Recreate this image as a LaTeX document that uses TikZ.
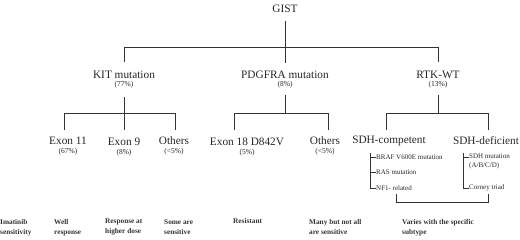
\documentclass[tikz,border=0pt]{standalone}
\usepackage{fontspec}
\setmainfont{Liberation Serif}
\begin{document}
\begin{tikzpicture}[x=1pt,y=-1pt,
  lvl/.style={font=\fontsize{11.3}{13}\selectfont, inner sep=0pt, text=black!85},
  pct/.style={font=\fontsize{7.5}{9}\selectfont, inner sep=0pt, text=black!85},
  sublab/.style={font=\fontsize{7}{9}\selectfont, inner sep=0pt, anchor=west, align=left, text=black!85},
  botlab/.style={font=\bfseries\fontsize{7.3}{10}\selectfont, inner sep=0pt, anchor=north west, align=left, text=black!80},
  ln/.style={draw=black!80, line width=0.8pt}]
\useasboundingbox (0,0) rectangle (520,239);

% top level
\node[lvl] (gist) at (285,9) {GIST};
\node[lvl] (kit) at (124,75) {KIT mutation};
\node[pct] (kitp) at (124,85) {(77\%)};
\node[lvl] (pdg) at (285,75) {PDGFRA mutation};
\node[pct] (pdgp) at (285,85) {(8\%)};
\node[lvl] (rtk) at (438,75) {RTK-WT};
\node[pct] (rtkp) at (438,85) {(13\%)};

\coordinate (g0) at (285,21);
\coordinate (g1) at (285,63);
\coordinate (gL) at (124,47);
\coordinate (gR) at (438,47);
\coordinate (gLb) at (124,62);
\coordinate (gRb) at (438,62);
\draw[ln] (g0) -- (g1);
\draw[ln] (gLb) -- (gL) -- (gR) -- (gRb);

% KIT subtree
\node[lvl] (ex11) at (68,141) {Exon 11};
\node[pct] (ex11p) at (68,151.5) {(67\%)};
\node[lvl] (ex9) at (124,141.5) {Exon 9};
\node[pct] (ex9p) at (124,152.5) {(8\%)};
\node[lvl] (koth) at (174,141) {Others};
\node[pct] (kothp) at (174,151.5) {(<5\%)};
\coordinate (k0) at (124,97);
\coordinate (k1) at (124,130);
\coordinate (kL) at (64,113);
\coordinate (kR) at (175,113);
\coordinate (kLb) at (64,130);
\coordinate (kRb) at (175,130);
\draw[ln] (k0) -- (k1);
\draw[ln] (kLb) -- (kL) -- (kR) -- (kRb);

% PDGFRA subtree
\node[lvl] (ex18) at (247,141.5) {Exon 18 D842V};
\node[pct] (ex18p) at (247,153) {(5\%)};
\node[lvl] (poth) at (325,141) {Others};
\node[pct] (pothp) at (325,151.5) {(<5\%)};
\coordinate (p0) at (285,95);
\coordinate (p1) at (285,113);
\coordinate (pL) at (234,113);
\coordinate (pR) at (328,113);
\coordinate (pLb) at (234,130);
\coordinate (pRb) at (328,130);
\draw[ln] (p0) -- (p1);
\draw[ln] (pLb) -- (pL) -- (pR) -- (pRb);

% RTK subtree
\node[lvl] (sdhc) at (389,141) {SDH-competent};
\node[lvl] (sdhd) at (486,141) {SDH-deficient};
\coordinate (r0) at (438,95);
\coordinate (r1) at (438,113);
\coordinate (rL) at (386,113);
\coordinate (rR) at (488,113);
\coordinate (rLb) at (386,130);
\coordinate (rRb) at (488,130);
\draw[ln] (r0) -- (r1);
\draw[ln] (rLb) -- (rL) -- (rR) -- (rRb);

% SDH-competent list
\node[sublab] (braf) at (376,157.5) {BRAF V600E mutation};
\node[sublab] (ras) at (376,172) {RAS mutation};
\node[sublab] (nf1) at (376,188) {NF1- related};
\coordinate (c0) at (370,153);
\coordinate (c1) at (370,157.5);
\coordinate (c2) at (370,172);
\coordinate (c3) at (370,188);
\draw[ln] (c0) -- (c3) -- (nf1.west);
\draw[ln] (c1) -- (braf.west);
\draw[ln] (c2) -- (ras.west);

% SDH-deficient list
\node[sublab] (sdhm) at (469,161.5) {SDH mutation\\(A/B/C/D)};
\node[sublab] (corn) at (469,188) {Corney triad};
\coordinate (d0) at (463,153);
\coordinate (d1) at (463,157.5);
\coordinate (d3) at (463,188);
\draw[ln] (d0) -- (d3) -- (corn.west);
\draw[ln] (d1) -- (469,157.5);

% bracket
\coordinate (bL) at (396,194);
\coordinate (bLb) at (396,202);
\coordinate (bRb) at (488,202);
\coordinate (bR) at (488,194);
\draw[ln] (bL) -- (bLb) -- (bRb) -- (bR);

% bottom row
\node[botlab] (b0) at (0,219) {Imatinib\\sensitivity};
\node[botlab] (b1) at (54,219) {Well\\response};
\node[botlab] (b2) at (105,219) {Response at\\higher dose};
\node[botlab] (b3) at (164,219) {Some are\\sensitive};
\node[botlab] (b4) at (233,218) {Resistant};
\node[botlab] (b5) at (309,219) {Many but not all\\are sensitive};
\node[botlab] (b6) at (402,219) {Varies with the specific\\subtype};
\end{tikzpicture}
\end{document}
